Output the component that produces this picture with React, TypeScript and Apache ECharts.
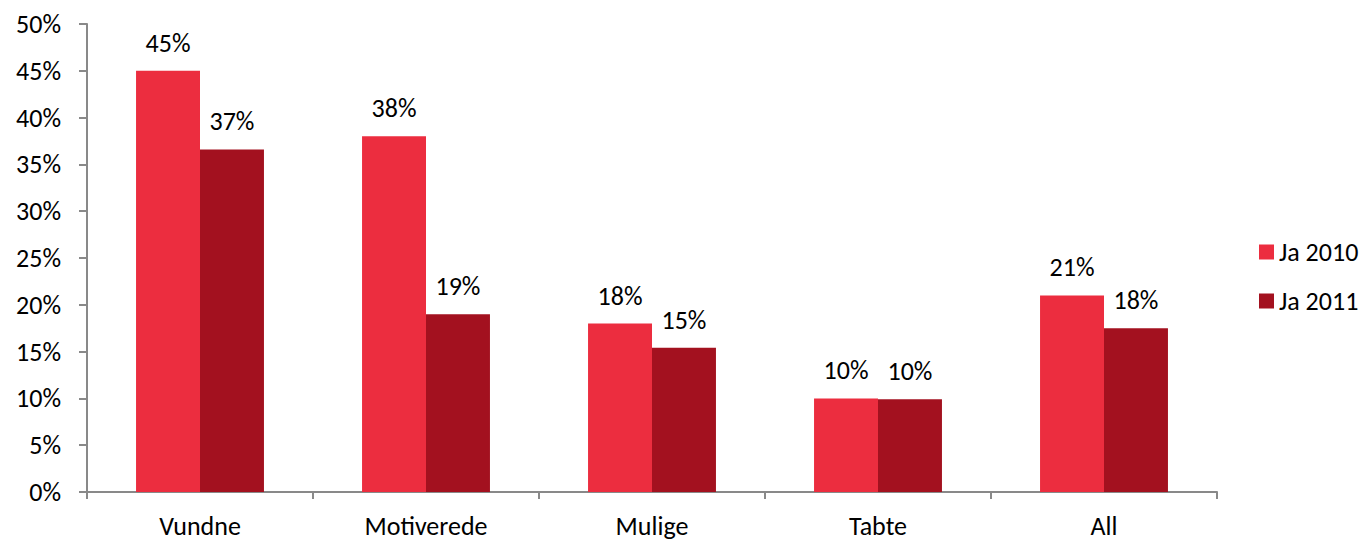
import React, { useEffect, useRef } from "react";
import * as echarts from "echarts";

const categories = ["Vundne", "Motiverede", "Mulige", "Tabte", "All"];
const seriesNames = ["Ja 2010", "Ja 2011"];
const values2010 = [45, 38, 18, 10, 21];
const values2011 = [36.6, 19, 15.4, 9.9, 17.5];
const yTicks = [0, 5, 10, 15, 20, 25, 30, 35, 40, 45, 50];

const FONT = "Calibri, Carlito, 'Open Sans', sans-serif";
const FS = 26;

export default function App() {
  const ref = useRef<HTMLDivElement>(null);
  useEffect(() => {
    if (!ref.current) return;
    const chart = echarts.init(ref.current, undefined, { renderer: "svg" });
    const labelCfg = {
      show: true,
      position: "top" as const,
      distance: 15,
      color: "#000",
      fontFamily: FONT,
      fontSize: FS,
      formatter: (p: any) => Math.round(p.value) + "%",
    };
    chart.setOption({
      animation: false,
      backgroundColor: "#fff",
      textStyle: { fontFamily: FONT },
      grid: { left: 87, right: 148, top: 24, bottom: 45, containLabel: false },
      legend: {
        orient: "vertical",
        left: 1259,
        top: 239,
        padding: 0,
        itemWidth: 15,
        itemHeight: 15,
        itemGap: 23,
        icon: "rect",
        textStyle: { fontFamily: FONT, fontSize: FS, color: "#000" },
        data: seriesNames,
      },
      xAxis: {
        type: "category",
        data: categories,
        axisLine: { lineStyle: { color: "#898989", width: 2 } },
        axisTick: { show: true, length: 7, alignWithLabel: false, lineStyle: { color: "#898989", width: 2 } },
        axisLabel: { fontFamily: FONT, fontSize: FS, color: "#000", margin: 21 },
      },
      yAxis: {
        type: "value",
        min: 0,
        max: 50,
        interval: 5,
        axisLine: { show: true, lineStyle: { color: "#898989", width: 2 } },
        axisTick: { show: true, length: 8, lineStyle: { color: "#898989", width: 2 } },
        splitLine: { show: false },
        axisLabel: {
          fontFamily: FONT,
          fontSize: FS,
          color: "#000",
          margin: 26,
          formatter: (v: number) => (yTicks.includes(v) ? v + "%" : ""),
        },
      },
      series: [
        {
          name: seriesNames[0],
          type: "bar",
          data: values2010,
          barGap: "0%",
          barCategoryGap: "43.4%",
          itemStyle: { color: "#EC2D3F" },
          label: labelCfg,
        },
        {
          name: seriesNames[1],
          type: "bar",
          data: values2011,
          itemStyle: { color: "#A3111F" },
          label: labelCfg,
        },
      ],
    });
    return () => chart.dispose();
  }, []);
  return (
    <div
      ref={ref}
      style={{ position: "fixed", left: 0, top: 0, width: 1365, height: 539 }}
    />
  );
}
